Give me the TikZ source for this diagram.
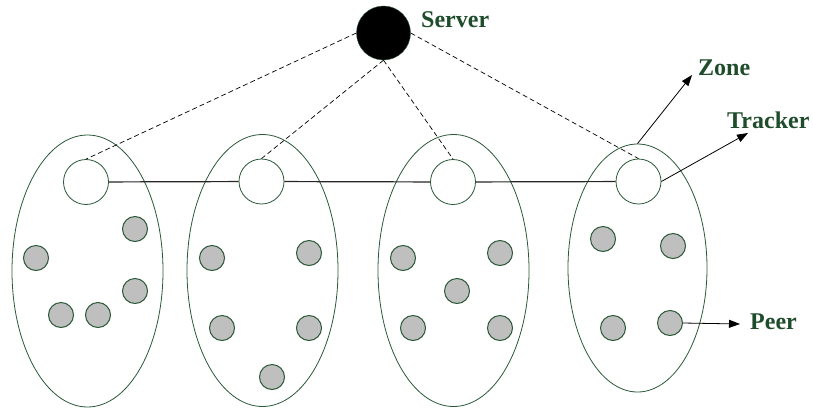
\documentclass[tikz,border=0pt]{standalone}
\usepackage{fontspec}
\setmainfont{Liberation Serif}
\usetikzlibrary{shapes.geometric,arrows.meta}
\definecolor{edge}{HTML}{2A5838}
\definecolor{label}{HTML}{1F4D2C}

\begin{document}
\begin{tikzpicture}[x=1pt, y=-1pt,
    zone/.style = {draw=edge, ellipse, line width=0.8pt, inner sep=0pt, minimum width=151pt, minimum height=272pt},
    tracker/.style = {draw=edge, circle, fill=white, line width=0.8pt, inner sep=0pt, minimum size=45pt},
    peer/.style = {draw=edge, circle, fill=gray!50, line width=1pt, inner sep=0pt, minimum size=25pt},
    tag/.style = {font=\fontsize{24}{28}\selectfont\bfseries, text=label, inner sep=0pt, anchor=west},
    link/.style = {-{Triangle[length=11pt,width=8pt]}, line width=0.8pt}]
    \useasboundingbox (0,0) rectangle (813,410);

    % zones
    \node[zone] (z1) at (87.5,271) {};
    \node[zone] (z2) at (262.5,270.5) {};
    \node[zone] (z3) at (453.5,270.5) {};
    \node[zone, minimum width=139pt, minimum height=248pt] (z4) at (637.5,268) {};

    % trackers
    \node[tracker] (t1) at (86,182) {};
    \node[tracker] (t2) at (261.5,181.5) {};
    \node[tracker] (t3) at (453,182) {};
    \node[tracker] (t4) at (638.5,181.5) {};
    \draw[line width=1.2pt, black!85] (t1) -- (t2) (t2) -- (t3) (t3) -- (t4);

    % server
    \node[draw=edge, circle, fill=black, inner sep=0pt, minimum size=54pt] (s) at (383.5,33) {};
    \node[tag] (sl) at (421,20) {Server};
    \draw[dash pattern=on 5pt off 3pt, line width=0.7pt] (s.west) -- (t1.north);
    \draw[dash pattern=on 5pt off 3pt, line width=0.7pt] (s.south) -- (t2.north);
    \draw[dash pattern=on 5pt off 3pt, line width=0.7pt] (s.south) -- (t3.north);
    \draw[dash pattern=on 5pt off 3pt, line width=0.7pt] (s.east) -- (t4.north);

    % peers
    \node[peer] (p11) at (36,258) {};
    \node[peer] (p12) at (135,229) {};
    \node[peer] (p13) at (135,291) {};
    \node[peer] (p14) at (61,315) {};
    \node[peer] (p15) at (98,315) {};
    \node[peer] (p21) at (212,258) {};
    \node[peer] (p22) at (309,253) {};
    \node[peer] (p23) at (222,328) {};
    \node[peer] (p24) at (309,328) {};
    \node[peer] (p25) at (272,377) {};
    \node[peer] (p31) at (403,258) {};
    \node[peer] (p32) at (500,253) {};
    \node[peer] (p33) at (457,291) {};
    \node[peer] (p34) at (413,328) {};
    \node[peer] (p35) at (500,328) {};
    \node[peer] (p41) at (603,239) {};
    \node[peer] (p42) at (673,246) {};
    \node[peer] (p43) at (613,328) {};
    \node[peer] (p44) at (670,323) {};

    % labels
    \node[tag] (zl) at (698,68) {Zone};
    \node[tag] (tl) at (727,120) {Tracker};
    \node[tag] (pl) at (750,322) {Peer};
    \coordinate (ze) at (692,75);
    \coordinate (te) at (748,133);
    \coordinate (pe) at (740,324);
    \draw[link] (z4.north) -- (ze);
    \draw[link] (t4.east) -- (te);
    \draw[link] (p44.east) -- (pe);
\end{tikzpicture}
\end{document}
